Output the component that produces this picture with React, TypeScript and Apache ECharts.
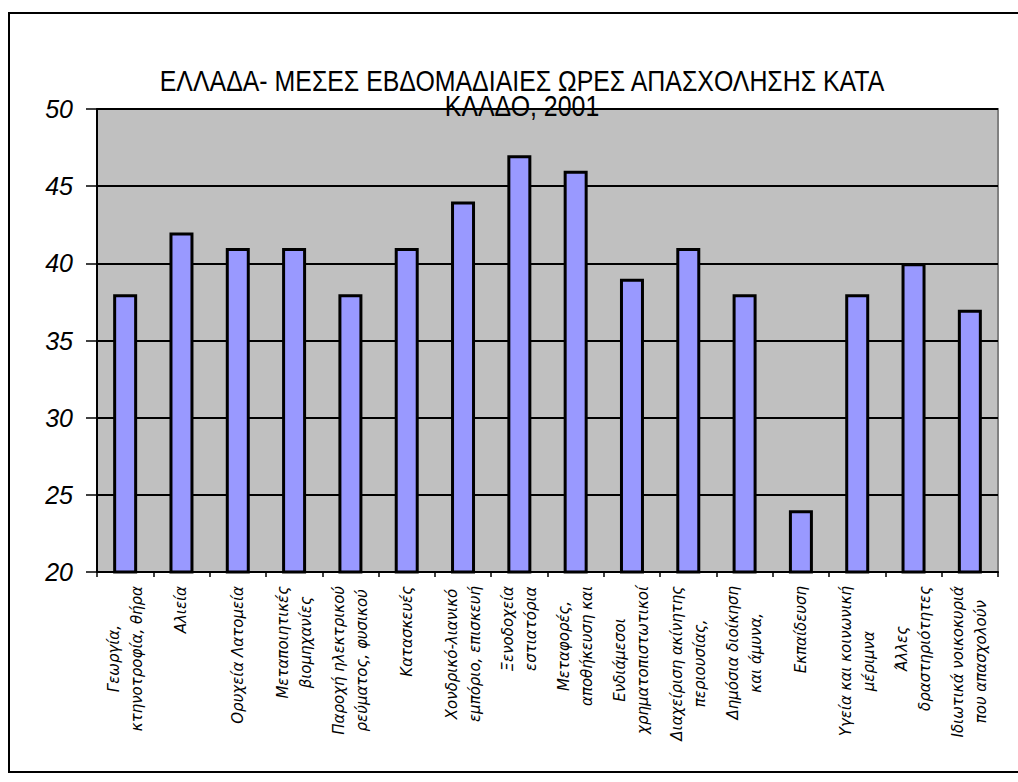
import React, { useEffect, useRef } from "react";
import * as echarts from "echarts";

const categories: string[] = [
  "Γεωργία,\nκτηνοτροφία, θήρα",
  "Αλιεία",
  "Ορυχεία Λατομεία",
  "Μεταποιητικές\nβιομηχανίες",
  "Παροχή ηλεκτρικού\nρεύματος, φυσικού",
  "Κατασκευές",
  "Χονδρικό-λιανικό\nεμπόριο, επισκευή",
  "Ξενοδοχεία\nεστιατόρια",
  "Μεταφορές,\nαποθήκευση και",
  "Ενδιάμεσοι\nχρηματοπιστωτικοί",
  "Διαχείριση ακίνητης\nπεριουσίας,",
  "Δημόσια διοίκηση\nκαι άμυνα,",
  "Εκπαίδευση",
  "Υγεία και κοινωνική\nμέριμνα",
  "Άλλες\nδραστηριότητες",
  "Ιδιωτικά νοικοκυριά\nπου απασχολούν",
];

const hours: number[] = [38, 42, 41, 41, 38, 41, 44, 47, 46, 39, 41, 38, 24, 38, 40, 37];

const yMin = 20;
const yMax = 50;
const yStep = 5;

const titleLines: string[] = [
  "ΕΛΛΑΔΑ- ΜΕΣΕΣ ΕΒΔΟΜΑΔΙΑΙΕΣ ΩΡΕΣ ΑΠΑΣΧΟΛΗΣΗΣ ΚΑΤΑ",
  "ΚΛΑΔΟ, 2001",
];

const labelFont = "'DejaVu Sans', 'Liberation Sans', sans-serif";

export default function App() {
  const ref = useRef<HTMLDivElement>(null);
  useEffect(() => {
    if (!ref.current) return;
    const chart = echarts.init(ref.current, undefined, { renderer: "svg" });
    chart.setOption({
      animation: false,
      backgroundColor: "#ffffff",
      grid: {
        left: 97,
        top: 109,
        right: 20,
        bottom: 210,
        show: true,
        backgroundColor: "#C0C0C0",
        borderColor: "#808080",
        borderWidth: 2,
      },
      graphic: [
        {
          type: "rect",
          shape: { x: 9, y: 13, width: 1030, height: 759 },
          style: { fill: "none", stroke: "#000", lineWidth: 2 },
          z: 100,
        },
        {
          type: "text",
          x: 522,
          y: 68,
          scaleX: 0.83,
          style: {
            text: titleLines.join("\n"),
            textAlign: "center",
            textVerticalAlign: "top",
            font: "normal 30px 'Liberation Sans', Arial, sans-serif",
            lineHeight: 25,
            fill: "#000",
          },
          z: 50,
        },
      ],
      xAxis: {
        type: "category",
        data: categories,
        axisLine: { show: true, lineStyle: { color: "#000", width: 2 } },
        axisTick: { show: true, length: 5, lineStyle: { color: "#000", width: 1.5 } },
        axisLabel: {
          rotate: 90,
          interval: 0,
          margin: 14,
          color: "#000",
          fontStyle: "italic",
          fontSize: 15,
          fontFamily: labelFont,
          lineHeight: 23,
          formatter: (v: string) =>
            v
              .split("\n")
              .map((l) => `{c|${l}}`)
              .join("\n"),
          rich: {
            c: {
              align: "center",
              fontStyle: "italic",
              fontSize: 15,
              fontFamily: labelFont,
              lineHeight: 23,
              color: "#000",
            },
          },
        },
        splitLine: { show: false },
      },
      yAxis: {
        type: "value",
        min: yMin,
        max: yMax,
        interval: yStep,
        axisLine: { show: true, lineStyle: { color: "#000", width: 2 } },
        axisTick: { show: true, length: 11, lineStyle: { color: "#000", width: 1.5 } },
        axisLabel: {
          margin: 24,
          color: "#000",
          fontStyle: "italic",
          fontSize: 25,
          fontFamily: "'Liberation Sans', Arial, sans-serif",
        },
        splitLine: { show: true, lineStyle: { color: "#000", width: 2 } },
      },
      series: [
        {
          type: "bar",
          data: hours,
          barWidth: 24,
          itemStyle: { color: "#9999FF", borderColor: "#000", borderWidth: 3 },
        },
      ],
    });
    return () => chart.dispose();
  }, []);
  return (
    <div
      ref={ref}
      style={{ position: "fixed", left: 0, top: 0, width: 1018, height: 782 }}
    />
  );
}
